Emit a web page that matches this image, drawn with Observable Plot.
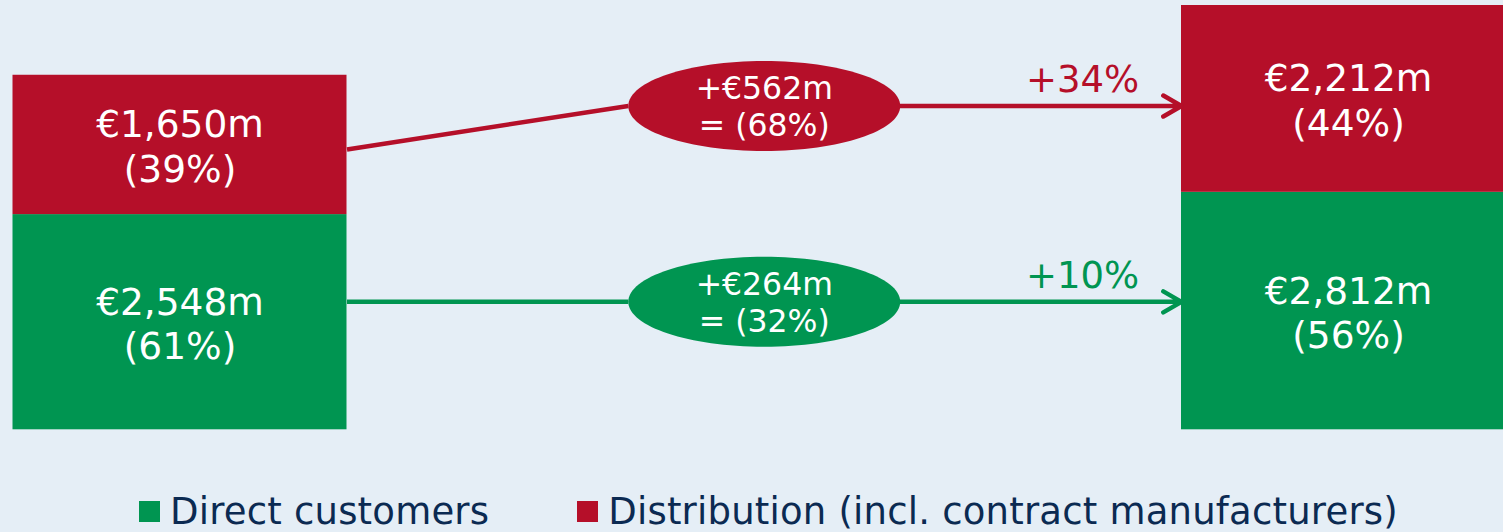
<!DOCTYPE html>
<html>
<head>
<meta charset="utf-8">
<script src="https://cdn.jsdelivr.net/npm/d3@7"></script>
<script src="https://cdn.jsdelivr.net/npm/@observablehq/plot@0.6"></script>
<style>
  html, body { margin: 0; padding: 0; background: #e5eef6; overflow: hidden; }
  #chart { width: 1503px; height: 532px; position: relative; }
  #legend { display: flex; align-items: center; margin-top: 22.7px; padding-left: 139px;
            font-family: "DejaVu Sans", sans-serif; font-size: 37px; line-height: 37px; color: #0b2a52;
            white-space: nowrap; letter-spacing: 0.2px; }
  .sw { display: inline-block; width: 21px; height: 21px; margin-right: 10px; }
</style>
</head>
<body>
<div id="chart"></div>
<script>
// ---- data ----
const periods = ["Previous year", "Current year"];
const segments = ["Direct customers", "Distribution (incl. contract manufacturers)"];
const segmentColors = ["#009551", "#b50f29"];
const directValues = [2548, 2812];
const distributionValues = [1650, 2212];
const directShares = ["61%", "56%"];
const distributionShares = ["39%", "44%"];
const changeValues = [264, 562];           // direct, distribution
const changeShares = ["32%", "68%"];
const growthLabels = ["+10%", "+34%"];
const connectorStart = [1515, 3319];       // level where connector leaves left bar
const connectorEnd = [1515, 3834];         // level of ellipse / arrow into right bar

// ---- layout (styles) ----
const W = 1503, H = 470;
const mL = 179.5, mR = 155, mT = 5, mB = 40.7;
const pxPerUnit = W - mL - mR;
const barHalf = 167 / pxPerUnit;
const ELL_RX = 136, ELL_RY = 45;
const ellHalf = ELL_RX / pxPerUnit;
const fmt = d3.format(",");

// tables built from arrays
const bars = [];
periods.forEach((p, i) => {
  bars.push({i, segment: segments[0], value: directValues[i], share: directShares[i], y1: 0, y2: directValues[i]});
  bars.push({i, segment: segments[1], value: distributionValues[i], share: distributionShares[i],
             y1: directValues[i], y2: directValues[i] + distributionValues[i]});
});
const conns = segments.map((s, k) => ({
  segment: s, change: changeValues[k], share: changeShares[k], growth: growthLabels[k],
  start: connectorStart[k], end: connectorEnd[k]
}));

const K = 0.5522848;
const ellipseSymbol = {
  draw(ctx) {
    const a = ELL_RX, b = ELL_RY, ka = a * K, kb = b * K;
    ctx.moveTo(a, 0);
    ctx.bezierCurveTo(a, kb, ka, b, 0, b);
    ctx.bezierCurveTo(-ka, b, -a, kb, -a, 0);
    ctx.bezierCurveTo(-a, -kb, -ka, -b, 0, -b);
    ctx.bezierCurveTo(ka, -b, a, -kb, a, 0);
    ctx.closePath();
  }
};

const totalMax = d3.max(periods.map((p, i) => directValues[i] + distributionValues[i]));

const chart = Plot.plot({
  width: W, height: H,
  marginLeft: mL, marginRight: mR, marginTop: mT, marginBottom: mB,
  x: {type: "linear", domain: [0, 1], axis: null},
  y: {type: "linear", domain: [0, totalMax], axis: null},
  color: {domain: segments, range: segmentColors},
  style: {background: "transparent", fontFamily: "DejaVu Sans", overflow: "visible"},
  marks: [
    Plot.rect(bars, {x1: d => d.i - barHalf, x2: d => d.i + barHalf, y1: "y1", y2: "y2", fill: "segment"}),
    Plot.text(bars, {x: "i", y: d => (d.y1 + d.y2) / 2,
      text: d => `€${fmt(d.value)}m\n(${d.share})`,
      fill: "white", fontSize: 37.5, lineHeight: 1.19, dy: 0.5}),
    Plot.link(conns, {x1: d => barHalf, x2: d => 0.5 - ellHalf, y1: "start", y2: "end",
      stroke: "segment", strokeWidth: 4.5}),
    Plot.arrow(conns, {x1: d => 0.5, x2: d => 1 - barHalf, y1: "end", y2: "end",
      stroke: "segment", strokeWidth: 4.5, headLength: 7, headAngle: 60,
      strokeLinecap: "round", strokeLinejoin: "round"}),
    Plot.dot(conns, {x: d => 0.5, y: "end", fill: "segment", symbol: ellipseSymbol, r: 10}),
    Plot.text(conns, {x: d => 0.5, y: "end", text: d => `+€${d.change}m\n= (${d.share})`,
      fill: "white", fontSize: 31.5, lineHeight: 1.18, dy: -0.5}),
    Plot.text(conns, {x: d => 1, y: "end", dx: -266, dy: -25.5, text: "growth",
      fill: "segment", fontSize: 37})
  ]
});
document.getElementById("chart").appendChild(chart);

const legend = document.createElement("div");
legend.id = "legend";
segments.forEach((s, k) => {
  const item = document.createElement("div");
  item.style.display = "flex";
  item.style.alignItems = "center";
  if (k === 0) item.style.marginRight = "88px";
  const sw = document.createElement("span");
  sw.className = "sw";
  sw.style.background = segmentColors[k];
  const t = document.createElement("span");
  t.textContent = s;
  item.appendChild(sw); item.appendChild(t);
  legend.appendChild(item);
});
document.getElementById("chart").appendChild(legend);
</script>
</body>
</html>
